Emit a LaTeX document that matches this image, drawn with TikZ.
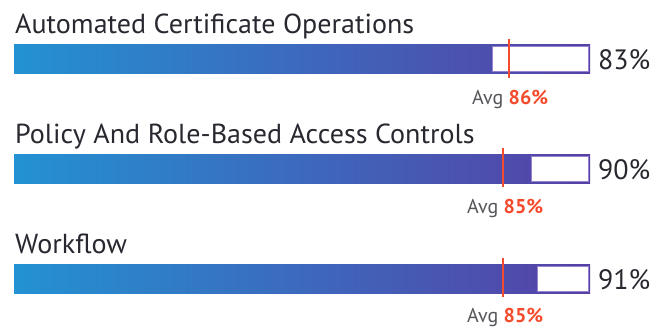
\documentclass[tikz,border=0pt]{standalone}
\usepackage{fontspec}
\setmainfont{PT Sans}
\definecolor{barL}{RGB}{35,146,210}
\definecolor{barR}{RGB}{86,64,166}
\definecolor{boxedge}{RGB}{150,130,205}
\definecolor{avgred}{RGB}{245,75,45}
\definecolor{txt}{RGB}{40,40,48}
\definecolor{avggray}{RGB}{85,85,90}
\tikzset{
  title/.style={anchor=base west, inner sep=0pt, text=txt, font=\fontsize{27.5}{27.5}\selectfont, xscale=1.02},
  pct/.style={anchor=base west, inner sep=0pt, text=txt, font=\fontsize{28}{28}\selectfont},
  avgtxt/.style={anchor=base west, inner sep=0pt, font=\fontsize{20}{20}\selectfont},
  bar/.style={left color=barL, right color=barR, draw=none},
  rest/.style={fill=white, draw=boxedge, line width=0.8pt},
  marker/.style={draw=avgred, line width=2pt},
}
\newcommand{\avgline}[1]{\textcolor{avggray}{Avg} \textcolor{avgred}{\bfseries #1}}
\begin{document}
\begin{tikzpicture}[x=1pt,y=-1pt]
\useasboundingbox (0,0) rectangle (668,327);
% Row 1
\node[title] (t1) at (15,33) {Automated Certificate Operations};
\fill[bar] (14,44) rectangle (590,73);
\draw[rest] (492,46) rectangle (588,71);
\coordinate (m1a) at (509,39);
\coordinate (m1b) at (509,78);
\draw[marker] (m1a) -- (m1b);
\node[pct] (p1) at (598,69) {83\%};
\node[avgtxt] (a1) at (472,104) {\avgline{86\%}};
% Row 2
\node[title] (t2) at (15,143) {Policy And Role-Based Access Controls};
\fill[bar] (14,154) rectangle (590,183);
\draw[rest] (531,156) rectangle (588,181);
\coordinate (m2a) at (503,148);
\coordinate (m2b) at (503,187);
\draw[marker] (m2a) -- (m2b);
\node[pct] (p2) at (598,179) {90\%};
\node[avgtxt] (a2) at (467,213) {\avgline{85\%}};
% Row 3
\node[title] (t3) at (15,253) {Workflow};
\fill[bar] (14,264) rectangle (590,293);
\draw[rest] (537,266) rectangle (588,291);
\coordinate (m3a) at (503,258);
\coordinate (m3b) at (503,297);
\draw[marker] (m3a) -- (m3b);
\node[pct] (p3) at (598,289) {91\%};
\node[avgtxt] (a3) at (467,322) {\avgline{85\%}};
\end{tikzpicture}
\end{document}
